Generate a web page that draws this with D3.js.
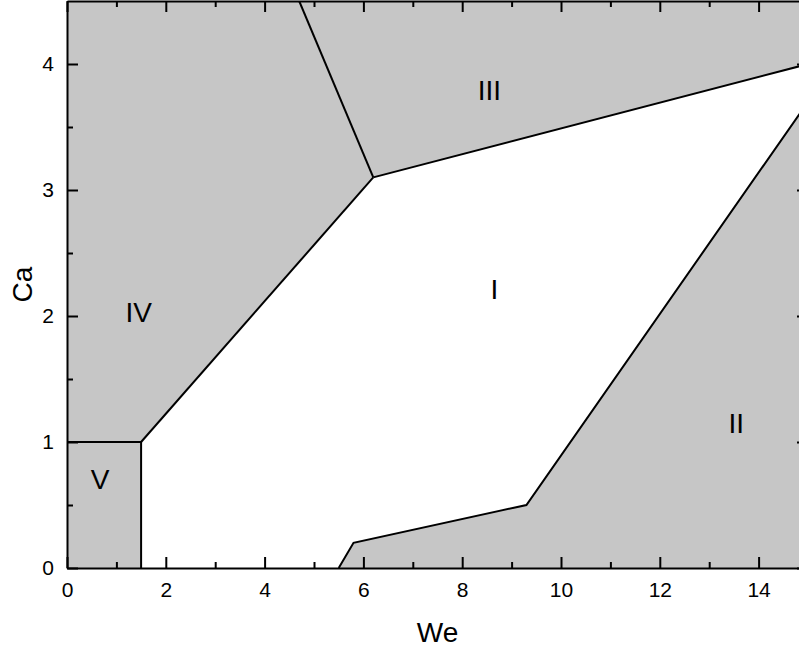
<!DOCTYPE html>
<html>
<head>
<meta charset="utf-8">
<script src="https://cdn.jsdelivr.net/npm/d3@7"></script>
<style>
  html, body { margin: 0; padding: 0; background: #fff; }
  svg { display: block; }
  text { font-family: Arial, "Liberation Sans", sans-serif; fill: #000; }
</style>
</head>
<body>
<svg id="chart" width="799" height="653"></svg>
<script>
// Flow-regime map, Ca versus We
const xDomain = [0, 15];
const yDomain = [0, 4.5];
const xMajorTicks = [0, 2, 4, 6, 8, 10, 12, 14];
const xMinorTicks = [1, 3, 5, 7, 9, 11, 13];
const yMajorTicks = [0, 1, 2, 3, 4];
const yMinorTicks = [0.5, 1.5, 2.5, 3.5];

// Regime boundaries (We, Ca)
const boundaryV = [[0, 1], [1.5, 1], [1.5, 0]];
const boundaryIV_I = [[1.5, 1], [6.2, 3.1]];
const boundaryIV_III = [[6.2, 3.1], [4.7, 4.5]];
const boundaryIII_I = [[6.2, 3.1], [15, 4.0]];
const boundaryII_I = [[5.5, 0], [5.8, 0.2], [9.3, 0.5], [15, 3.7]];

// Shaded regimes
const regionV = [[0, 0], [1.5, 0], [1.5, 1], [0, 1]];
const regionIV = [[0, 1], [1.5, 1], [6.2, 3.1], [4.7, 4.5], [0, 4.5]];
const regionIII = [[4.7, 4.5], [6.2, 3.1], [15, 4.0], [15, 4.5]];
const regionII = [[5.5, 0], [5.8, 0.2], [9.3, 0.5], [15, 3.7], [15, 0]];

// Regime labels
const regimeNames = ["I", "II", "III", "IV", "V"];
const regimeX = [8.65, 13.55, 8.55, 1.45, 0.67];
const regimeY = [2.21, 1.15, 3.79, 2.03, 0.70];

const svg = d3.select("#chart");
const x = d3.scaleLinear().domain(xDomain).range([67, 808]);
const y = d3.scaleLinear().domain(yDomain).range([568, 1]);

svg.append("defs").append("clipPath").attr("id", "plot-clip")
  .append("rect")
  .attr("x", x(0)).attr("y", y(4.5))
  .attr("width", x(15) - x(0)).attr("height", y(0) - y(4.5));

const plot = svg.append("g").attr("clip-path", "url(#plot-clip)");

const line = d3.line().x(d => x(d[0])).y(d => y(d[1]));
const area = d3.line().x(d => x(d[0])).y(d => y(d[1])).curve(d3.curveLinearClosed);

const fillGray = "#c6c6c6";
[regionV, regionIV, regionIII, regionII].forEach(r => {
  plot.append("path").attr("d", area(r)).attr("fill", fillGray).attr("stroke", "none");
});

[boundaryV, boundaryIV_I, boundaryIV_III, boundaryIII_I, boundaryII_I].forEach(b => {
  plot.append("path").attr("d", line(b))
    .attr("fill", "none").attr("stroke", "#000").attr("stroke-width", 2)
    .attr("stroke-linejoin", "miter");
});

// Region labels
regimeNames.forEach((name, i) => {
  svg.append("text")
    .attr("x", x(regimeX[i])).attr("y", y(regimeY[i]))
    .attr("text-anchor", "middle").attr("dominant-baseline", "central")
    .style("font-size", "28px")
    .text(name);
});

// Axes: ticks pointing inward, mirrored on the opposite sides
function styleAxis(g) {
  g.selectAll("path.domain").attr("stroke", "#000").attr("stroke-width", 2);
  g.selectAll(".tick line").attr("stroke", "#000").attr("stroke-width", 2);
  g.selectAll(".tick text").style("font-size", "21px").attr("fill", "#000")
    .style("font-family", "Arial, 'Liberation Sans', sans-serif");
}

const majorLen = 11, minorLen = 6;

// bottom
const xb = svg.append("g").attr("transform", `translate(0,${y(0)})`)
  .call(d3.axisBottom(x).tickValues(xMajorTicks).tickSizeInner(-majorLen).tickSizeOuter(0).tickPadding(14).tickFormat(d3.format("d")));
styleAxis(xb);
svg.append("g").attr("transform", `translate(0,${y(0)})`)
  .call(d3.axisBottom(x).tickValues(xMinorTicks).tickSize(-minorLen).tickFormat(""))
  .call(g => { g.select(".domain").remove(); styleAxis(g); });

// top
const xt = svg.append("g").attr("transform", `translate(0,${y(4.5)})`)
  .call(d3.axisTop(x).tickValues(xMajorTicks).tickSizeInner(-majorLen).tickSizeOuter(0).tickFormat(""));
styleAxis(xt);
svg.append("g").attr("transform", `translate(0,${y(4.5)})`)
  .call(d3.axisTop(x).tickValues(xMinorTicks).tickSize(-minorLen).tickFormat(""))
  .call(g => { g.select(".domain").remove(); styleAxis(g); });

// left
const yl = svg.append("g").attr("transform", `translate(${x(0)},0)`)
  .call(d3.axisLeft(y).tickValues(yMajorTicks).tickSizeInner(-majorLen).tickSizeOuter(0).tickPadding(13).tickFormat(d3.format("d")));
styleAxis(yl);
svg.append("g").attr("transform", `translate(${x(0)},0)`)
  .call(d3.axisLeft(y).tickValues(yMinorTicks).tickSize(-minorLen).tickFormat(""))
  .call(g => { g.select(".domain").remove(); styleAxis(g); });

// right
const yr = svg.append("g").attr("transform", `translate(${x(15)},0)`)
  .call(d3.axisRight(y).tickValues(yMajorTicks).tickSizeInner(-majorLen).tickSizeOuter(0).tickFormat(""));
styleAxis(yr);
svg.append("g").attr("transform", `translate(${x(15)},0)`)
  .call(d3.axisRight(y).tickValues(yMinorTicks).tickSize(-minorLen).tickFormat(""))
  .call(g => { g.select(".domain").remove(); styleAxis(g); });

// Axis titles
svg.append("text")
  .attr("x", (x(0) + x(15)) / 2).attr("y", 642)
  .attr("text-anchor", "middle").style("font-size", "28px")
  .text("We");
svg.append("text")
  .attr("transform", `translate(32,${(y(0) + y(4.5)) / 2}) rotate(-90)`)
  .attr("text-anchor", "middle").style("font-size", "28px")
  .text("Ca");
</script>
</body>
</html>
